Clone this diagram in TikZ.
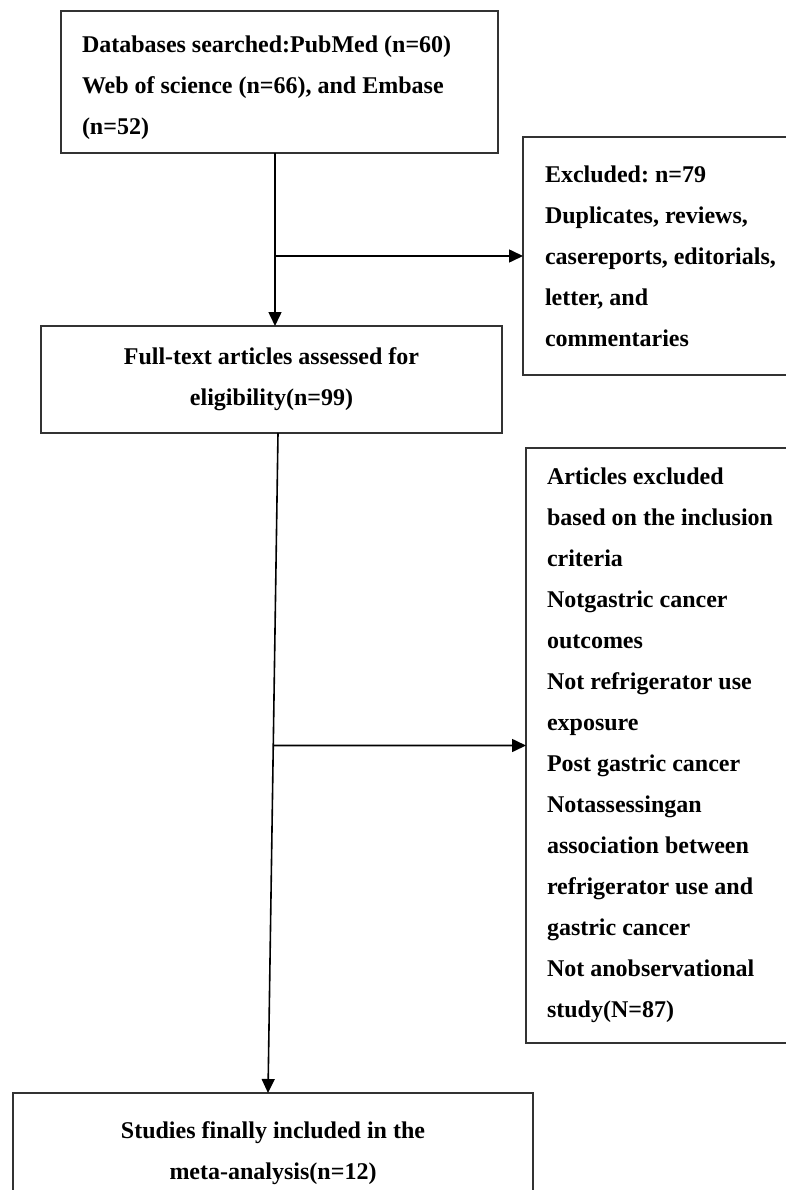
\documentclass[tikz,border=0pt]{standalone}
\usepackage{fontspec}
\setmainfont{Liberation Serif}
\usetikzlibrary{arrows.meta,positioning,calc}
\frenchspacing

\begin{document}
\begin{tikzpicture}[x=1pt,y=-1pt]
% styles for the boxes and the arrows of the flow chart
\tikzset{
        box/.style={draw=black!80, line width=1.6pt, rectangle, outer sep=0pt, inner ysep=0pt,
                    font=\bfseries\fontsize{24}{41}\selectfont,
                    execute at begin node={\spaceskip=0pt\xspaceskip=0pt}}, % every box of the chart, plain word spaces
        leftbox/.style={box, inner xsep=21pt, text width=#1}, % text flush left, lines broken by hand
        midbox/.style={box, align=center}, % text centred
        arr/.style={-{Triangle[length=14pt,width=13pt]}, line width=1.6pt}, % the connectors
}
\useasboundingbox (0,0) rectangle (785,1190);
% the boxes, placed at coordinates
\node[leftbox=395pt, minimum width=437pt, minimum height=142pt, text height=29pt] (db) at (279.5,82)
      {Databases searched:PubMed (n=60)\\ Web of science (n=66), and Embase\\ (n=52)};
\node[leftbox=260pt, inner xsep=22pt, minimum height=238pt] (excl1) at (675,256)
      {Excluded: n=79\\ Duplicates, reviews,\\ casereports, editorials,\\ letter, and\\ commentaries};
\node[midbox, minimum width=461pt, minimum height=107pt] (full) at (271.5,379.5)
      {Full-text articles assessed for\\ eligibility(n=99)};
\node[leftbox=260pt, minimum height=595pt] (excl2) at (677,745.5)
      {Articles excluded\\ based on the inclusion\\ criteria\\ Notgastric cancer\\ outcomes\\
       Not refrigerator use\\ exposure\\ Post gastric cancer\\ Notassessingan\\
       association between\\ refrigerator use and\\ gastric cancer\\ Not anobservational\\ study(N=87)};
\node[midbox, minimum width=520pt, minimum height=120pt] (final) at (273,1153)
      {Studies finally included in the\\ meta-analysis(n=12)};
% the connectors; the branches leave the main lines at the height of the side boxes
\draw[arr] ([xshift=-4.5pt]db.south) coordinate (t1) -- (t1 |- full.north);
\draw[arr] (t1 |- excl1.west) -- (excl1.west);
\draw[arr] ([xshift=6.5pt]full.south) coordinate (t2) -- ([xshift=-5pt]final.north) coordinate (t3);
\draw[arr] (intersection of t2--t3 and excl2.west--excl2.east) -- (excl2.west);
\end{tikzpicture}
\end{document}
